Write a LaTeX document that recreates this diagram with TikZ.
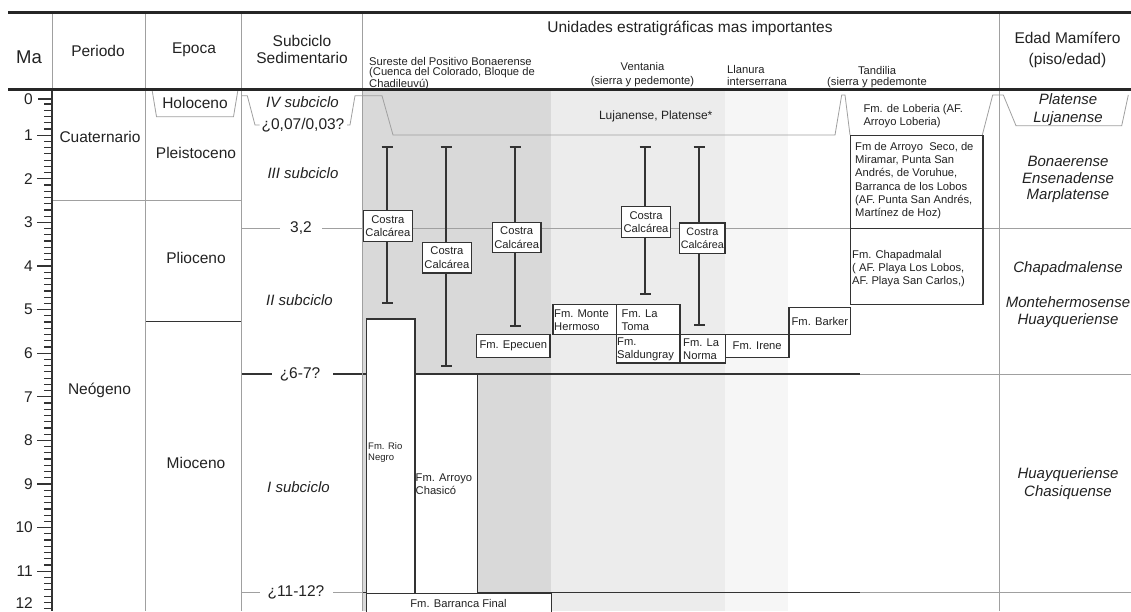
\documentclass[tikz,border=0pt]{standalone}
\usepackage{fontspec}
\setmainfont{Liberation Sans}
\usetikzlibrary{arrows.meta}
\definecolor{shA}{HTML}{D9D9D9}
\definecolor{shB}{HTML}{ECECEC}
\definecolor{shC}{HTML}{F6F6F6}
\definecolor{lineG}{HTML}{A0A0A0}
\definecolor{boxL}{HTML}{333333}
\definecolor{txt}{HTML}{222222}
\begin{document}
\begin{tikzpicture}[x=1pt,y=-1pt,
  gline/.style={draw=lineG, line width=0.8pt},
  dline/.style={draw=boxL, line width=1.4pt},
  bx/.style={draw=boxL, line width=1.4pt, fill=white, inner sep=0pt, anchor=north west, align=center, font=\fontsize{11.2}{13.3}\selectfont, text=txt},
  hdr/.style={font=\fontsize{15.5}{17}\selectfont, inner sep=0pt, text=txt, align=center},
  smt/.style={font=\fontsize{11.2}{13.3}\selectfont, inner sep=0pt, text=txt},
  sub/.style={font=\fontsize{15}{17}\selectfont\itshape, inner sep=0pt, text=txt},
  edad/.style={font=\fontsize{15}{17}\selectfont\itshape, inner sep=0pt, align=center, text=txt},
  rng/.style={draw=boxL, line width=1.5pt, {Bar[width=11pt,line width=2.4pt]}-{Bar[width=11pt,line width=2.4pt]}},
  tick/.style={draw=boxL, line width=1.2pt},
]
\fill[white] (0,0) rectangle (1131,611);
\useasboundingbox (0,0) rectangle (1131,611);

% shading
\fill[shA] (362,89.5) rectangle (551,611);
\fill[shB] (551,89.5) rectangle (725,611);
\fill[shC] (725,89.5) rectangle (788,611);

% thin gray horizontal lines
\draw[gline] (52,200.7) -- (241,200.7);
\draw[gline] (241,228.3) -- (280,228.3);
\draw[gline] (322,228.3) -- (1131,228.3);
\draw[gline] (860,374) -- (1131,374);
\draw[gline] (241,592.7) -- (260,592.7);
\draw[gline] (333,592.7) -- (362,592.7);
\draw[gline] (860,592.7) -- (1131,592.7);
% Holoceno trapezoid
\draw[gline] (152,89.5) -- (156.5,116.7) -- (233.5,116.7) -- (238,89.5);
% IV subciclo boundary
\draw[gline] (241.5,95.7) -- (247.3,95.7) -- (255,125) -- (259.5,125);
\draw[gline] (347,125) -- (350,125) -- (355,95.7) -- (382,95.7) -- (393,135) -- (835,135) -- (841.7,95) -- (845,95) -- (850,135);
\draw[gline] (982.3,135) -- (992.7,95) -- (1003.3,95) -- (1016,125.7) -- (1121.7,125.7) -- (1128.3,95);

% dark horizontal lines
\draw[dline] (145,321.7) -- (241,321.7);
\draw[dline] (241,374) -- (271.7,374);
\draw[dline] (333.3,374) -- (860,374);
\draw[dline, line width=1pt] (362,592.7) -- (860,592.7);

% vertical dividers
\draw[gline] (52,12.5) -- (52,89.5);
\draw[gline] (145,12.5) -- (145,611);
\draw[gline] (241,12.5) -- (241,611);
\draw[gline] (362.5,12.5) -- (362.5,611);
\draw[gline] (999.3,12.5) -- (999.3,611);
\draw[dline, line width=1.3pt] (52,89.5) -- (52,611);

% header rules
\draw[draw=black!85, line width=2.6pt] (8,12.5) -- (1131,12.5);
\draw[draw=black!85, line width=2.6pt] (8,89.5) -- (1131,89.5);

% axis ticks
\draw[tick] (38,99) -- (52,99);
\foreach \t in {1,...,11} {\draw[tick] (37,{91.6+43.6*\t}) -- (52,{91.6+43.6*\t});}
\foreach \k in {2,...,83} {
  \pgfmathtruncatemacro\r{mod(\k,7)}
  \ifnum\r=0\relax\else
    \draw[tick] (44,{91.6+43.6*\k/7}) -- (52,{91.6+43.6*\k/7});
  \fi
}
\node[hdr, anchor=east] (lab0) at (33,99) {0};
\foreach \t in {1,...,11} {\node[hdr, anchor=east] (lab\t) at (33,{91.6+43.6*\t}) {\t};}
\node[hdr, anchor=east] (lab12) at (33,603) {12};

% range bars
\coordinate (b1t) at (387,145.7); \coordinate (b1b) at (387,304);
\coordinate (b2t) at (446,145.7); \coordinate (b2b) at (446,367);
\coordinate (b3t) at (515,145.7); \coordinate (b3b) at (515,327);
\coordinate (b4t) at (645,145.7); \coordinate (b4b) at (645,295);
\coordinate (b5t) at (699,145.7); \coordinate (b5b) at (699,326);
\draw[rng] (b1t) -- (b1b);
\draw[rng] (b2t) -- (b2b);
\draw[rng] (b3t) -- (b3b);
\draw[rng] (b4t) -- (b4b);
\draw[rng] (b5t) -- (b5b);

% costra boxes
\node[bx, minimum width=49pt, minimum height=30.7pt] (c1) at (362.7,210) {Costra\\Calcárea};
\node[bx, minimum width=49pt, minimum height=30.6pt] (c2) at (421.7,241.7) {Costra\\Calcárea};
\node[bx, minimum width=48.6pt, minimum height=30.3pt] (c3) at (491.7,221.7) {Costra\\Calcárea};
\node[bx, minimum width=49.3pt, minimum height=30.7pt] (c4) at (620.7,206) {Costra\\Calcárea};
\node[bx, minimum width=45.3pt, minimum height=30.4pt, font=\fontsize{10.8}{13.3}\selectfont] (c5) at (679,222.3) {Costra\\Calcárea};

% formation boxes
\node[bx, minimum width=48.3pt, minimum height=274.4pt] (rion) at (366,318.3) {};
\node[bx, minimum width=62.4pt, minimum height=218.7pt] (chas) at (414.3,374) {};
\node[bx, minimum width=185pt, minimum height=25pt] (barr) at (366,592.7) {};
\node[bx, minimum width=73.3pt, minimum height=22.7pt] (epec) at (476,334) {Fm. Epecuen};
\node[bx, minimum width=63.4pt, minimum height=30pt] (mont) at (552.3,304) {};
\node[bx, minimum width=63.6pt, minimum height=30pt] (tom) at (615.7,304) {};
\node[bx, minimum width=63.6pt, minimum height=28.3pt] (sald) at (615.7,334) {};
\node[bx, minimum width=45.4pt, minimum height=28.3pt] (norm) at (679.3,334) {};
\node[bx, minimum width=63.6pt, minimum height=22.7pt] (iren) at (724.7,334) {Fm. Irene};
\node[bx, minimum width=61.7pt, minimum height=27.3pt] (bark) at (788.3,306.7) {Fm. Barker};
\node[bx, minimum width=132.3pt, minimum height=169pt] (tand) at (850,135) {};
\draw[dline] (850,228.3) -- (982.3,228.3);

% texts in boxes
\node[smt, font=\fontsize{9.5}{10.8}\selectfont, align=left, anchor=west] (trion) at (368,452.8) {Fm. Rio\\Negro};
\node[smt, align=left, anchor=west] (tchas) at (415.5,484) {Fm. Arroyo\\Chasicó};
\node[smt] (tbarr) at (458.5,603.7) {Fm. Barranca Final};
\node[smt, align=left, anchor=west] (tmont) at (554,320.5) {Fm. Monte\\Hermoso};
\node[smt, align=left, anchor=west] (ttom) at (621.5,320.5) {Fm. La\\Toma};
\node[smt, align=left, anchor=west] (tsald) at (617,349.5) {Fm.\\Saldungray};
\node[smt, align=left, anchor=west] (tnorm) at (683,349.5) {Fm. La\\Norma};
\node[smt, align=left, anchor=west] (ttand1) at (855,180.5) {Fm de Arroyo\ \ Seco, de\\Miramar, Punta San\\Andrés, de Voruhue,\\Barranca de los Lobos\\(AF. Punta San Andrés,\\Martínez de Hoz)};
\node[smt, align=left, anchor=west] (ttand2) at (852,268.5) {Fm. Chapadmalal\\( AF. Playa Los Lobos,\\AF. Playa San Carlos,)};
\node[smt, align=left, anchor=west] (tlob) at (863.3,116) {Fm. de Loberia (AF.\\Arroyo Loberia)};
\node[smt, font=\fontsize{12}{14}\selectfont] (tluj) at (655.7,116.7) {Lujanense, Platense*};

% header texts
\node[hdr, font=\fontsize{18.5}{20}\selectfont] (hma) at (29,57) {Ma};
\node[hdr] (hper) at (98,51) {Periodo};
\node[hdr] (hepo) at (194,50) {Epoca};
\node[hdr, font=\fontsize{15.5}{16.7}\selectfont] (hsub) at (302,49.5) {Subciclo\\Sedimentario};
\node[hdr] (huni) at (690,28) {Unidades estratigráficas mas importantes};
\node[smt, font=\fontsize{11.2}{10.2}\selectfont, align=left, anchor=west] (hsur) at (369,73.5) {Sureste del Positivo Bonaerense\\(Cuenca del Colorado, Bloque de\\Chadileuvú)};
\node[smt, align=center] (hven) at (642.5,74.5) {Ventania\\(sierra y pedemonte)};
\node[smt, font=\fontsize{11.2}{12.5}\selectfont, align=left, anchor=west] (hlla) at (727,75.5) {Llanura\\interserrana};
\node[smt, font=\fontsize{11.2}{11.7}\selectfont, align=center] (htan) at (877,77) {Tandilia\\(sierra y pedemonte};
\node[hdr, font=\fontsize{15.5}{21.5}\selectfont] (hedad) at (1067.5,50) {Edad Mamífero\\(piso/edad)};

% periodo / epoca
\node[hdr] (pcua) at (100,137) {Cuaternario};
\node[hdr] (pneo) at (99.5,390) {Neógeno};
\node[hdr] (ehol) at (195,103.3) {Holoceno};
\node[hdr] (eple) at (196,153) {Pleistoceno};
\node[hdr] (eplio) at (196,258) {Plioceno};
\node[hdr] (emio) at (196,463) {Mioceno};

% subciclos
\node[sub] (s4) at (302.5,101.7) {IV subciclo};
\node[hdr] (s4b) at (303,125) {¿0,07/0,03?};
\node[sub] (s3) at (303,173.3) {III subciclo};
\node[hdr] (s32) at (301,228.3) {3,2};
\node[sub] (s2) at (299.5,300) {II subciclo};
\node[hdr] (s67) at (300,374) {¿6-7?};
\node[sub] (s1) at (298.5,486.7) {I subciclo};
\node[hdr] (s1112) at (296,592.7) {¿11-12?};

% edad mamifero
\node[edad, font=\fontsize{15}{18}\selectfont\itshape] (m1) at (1068,109.5) {Platense\\Lujanense};
\node[edad, font=\fontsize{15}{16.5}\selectfont\itshape] (m2) at (1068,179.5) {Bonaerense\\Ensenadense\\Marplatense};
\node[edad] (m3) at (1068,268.3) {Chapadmalense};
\node[edad] (m4) at (1068,312.5) {Montehermosense\\Huayqueriense};
\node[edad, font=\fontsize{15}{17.7}\selectfont\itshape] (m5) at (1068,483.5) {Huayqueriense\\Chasiquense};
\end{tikzpicture}
\end{document}
